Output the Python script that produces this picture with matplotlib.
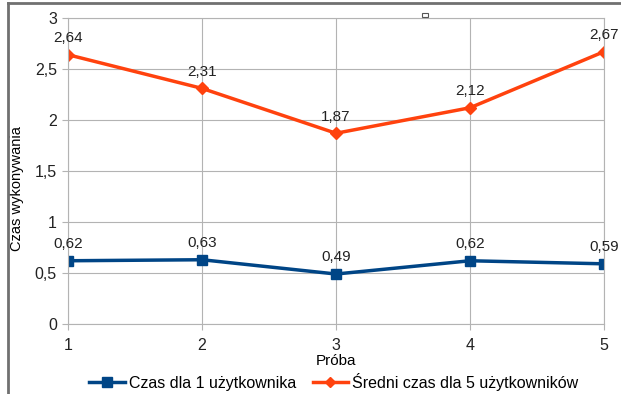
import matplotlib
matplotlib.use('Agg')
import matplotlib.pyplot as plt
from matplotlib.lines import Line2D
from matplotlib.patches import Rectangle

proby = [1, 2, 3, 4, 5]
czas_1 = [0.62, 0.63, 0.49, 0.62, 0.59]
czas_5 = [2.64, 2.31, 1.87, 2.12, 2.67]
y_ticks = [0, 0.5, 1, 1.5, 2, 2.5, 3]

def fmt(v):
    s = f"{v:g}"
    return s.replace('.', ',')

plt.rcParams['font.family'] = ['Liberation Sans', 'DejaVu Sans']

fig = plt.figure(figsize=(6.21, 3.94), dpi=100)
ax = fig.add_axes([68/621, 1 - 324/394, 536/621, 306/394])

blue = '#004586'
orange = '#ff420e'

ax.plot(proby, czas_1, '-s', color=blue, lw=2.5, ms=7.5, label='Czas dla 1 użytkownika')
ax.plot(proby, czas_5, '-D', color=orange, lw=2.5, ms=6.5, label='Średni czas dla 5 użytkowników')

for xs, ys in ((proby, czas_1), (proby, czas_5)):
    for x, y in zip(xs, ys):
        ax.annotate(fmt(y), (x, y), xytext=(0, 7), textcoords='offset points',
                    ha='center', va='bottom', fontsize=11, color='#222222')

ax.set_xlim(1, 5)
ax.set_ylim(0, 3)
ax.set_xticks(proby)
ax.set_xticklabels([str(p) for p in proby])
ax.set_yticks(y_ticks)
ax.set_yticklabels([fmt(t) for t in y_ticks])
ax.grid(True, color='#b3b3b3', lw=0.8)
ax.set_axisbelow(True)
for s in ax.spines.values():
    s.set_color('#b3b3b3')
    s.set_linewidth(0.8)
ax.tick_params(axis='both', direction='out', length=4, color='#b3b3b3',
               labelsize=11.5, labelcolor='#222222', pad=4)
ax.tick_params(axis='x', pad=6)
ax.set_xlabel('Próba', fontsize=11)
ax.xaxis.set_label_coords(0.5, -(354 - 324) / 306)
ax.set_ylabel('Czas wykonywania', fontsize=10.5)
ax.yaxis.set_label_coords(-(68 - 24) / 536, (324 - 189) / 306)

handles = [Line2D([], [], color=blue, lw=2.5, marker='s', ms=6.5),
           Line2D([], [], color=orange, lw=2.5, marker='D', ms=5.5)]
fig.legend(handles, ['Czas dla 1 użytkownika', 'Średni czas dla 5 użytkowników'],
           loc='center', bbox_to_anchor=(334/621, 1 - 382/394), ncol=2, frameon=False,
           fontsize=11.5, handlelength=2.2, columnspacing=1.0, handletextpad=0.3,
           borderpad=0)

# window frame edges visible in the screenshot
fig.add_artist(Line2D([8/621, 1], [1 - 3/394, 1 - 3/394], color='#707070', lw=2,
                      transform=fig.transFigure))
fig.add_artist(Line2D([8/621, 8/621], [0, 1 - 3/394], color='#707070', lw=2,
                      transform=fig.transFigure))
fig.add_artist(Rectangle((422/621, 1 - 17/394), 6/621, 4/394, fill=False,
                         edgecolor='#555555', lw=0.8, transform=fig.transFigure))

fig.savefig('out.png', dpi=100)
